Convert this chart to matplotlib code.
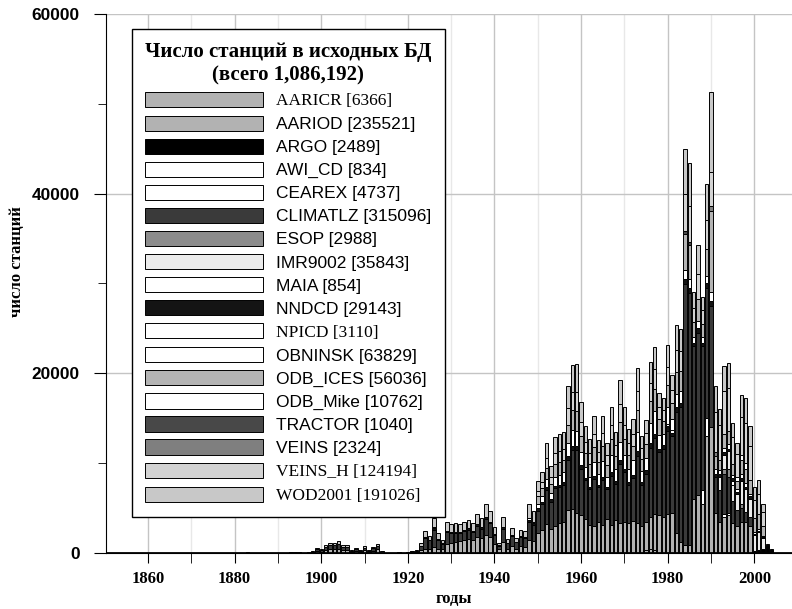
import numpy as np
import matplotlib.pyplot as plt
from matplotlib.ticker import MultipleLocator

# years on the axis, one bar per year
YEAR0 = 1880
years = np.arange(YEAR0, 2005)

# big sources, one value per year 1880..2004 (rows are decades)
AARIOD = [
    0, 0, 0, 0, 0, 0, 0, 0, 0, 0,
    0, 0, 0, 50, 50, 0, 0, 0, 100, 200,
    150, 300, 400, 400, 500, 300, 300, 100, 200, 100,
    300, 100, 250, 400, 50, 0, 0, 0, 50, 0,
    50, 80, 100, 300, 500, 500, 700, 500, 400, 1000,
    1100, 1200, 1300, 1400, 1600, 1400, 1800, 1700, 2000, 1800,
    1000, 400, 1200, 500, 800, 500, 800, 700, 1500, 1300,
    2200, 2600, 3200, 2700, 3000, 3300, 3500, 4800, 4900, 4500,
    4200, 3800, 3100, 3000, 3500, 3100, 3800, 3100, 3700, 3300,
    3500, 3300, 3600, 3300, 3000, 3100, 3600, 4000, 4200, 4000,
    4300, 4500, 2200, 1200, 900, 900, 6000, 6500, 5500, 13000,
    14000, 4500, 3500, 4000, 4200, 3300, 3000, 3500, 3400, 3000,
    0, 0, 0, 0, 0,
]
CLIMATLZ = [
    0, 0, 0, 100, 0, 0, 0, 0, 0, 0,
    0, 0, 0, 50, 100, 100, 50, 100, 150, 250,
    200, 400, 450, 450, 500, 400, 400, 150, 250, 150,
    300, 150, 300, 400, 150, 50, 50, 50, 100, 50,
    50, 100, 100, 450, 1200, 900, 1900, 1000, 600, 1300,
    1100, 1000, 900, 1000, 1000, 900, 1200, 1000, 1800, 1500,
    1000, 400, 1500, 600, 1100, 700, 1000, 1000, 2000, 1800,
    2500, 2800, 3800, 3000, 4200, 4000, 4100, 5600, 6600, 7000,
    5200, 4300, 4000, 5200, 3800, 5000, 3300, 5500, 4000, 6600,
    5500, 4300, 4700, 7500, 4600, 5400, 7700, 8500, 7000, 7600,
    9300, 8500, 13500, 15000, 29000, 28000, 17000, 18000, 16000, 14500,
    13500, 4000, 3500, 4500, 4000, 2500, 1800, 1500, 1200, 1000,
    0, 0, 0, 0, 0,
]
NNDCD = [0] * 40 + [
    0, 0, 0, 50, 100, 100, 200, 100, 100, 150,
    150, 150, 150, 150, 150, 150, 200, 150, 200, 200,
    100, 50, 150, 50, 100, 50, 100, 100, 200, 200,
    300, 300, 300, 300, 300, 300, 300, 400, 400, 400,
    400, 300, 300, 400, 300, 400, 300, 400, 300, 500,
    400, 300, 400, 500, 300, 400, 500, 500, 400, 400,
    500, 400, 500, 500, 600, 600, 400, 500, 400, 500,
    600, 300, 300, 300, 300, 300, 200, 300, 300, 300,
    100, 100, 100, 0, 0,
]
OBNINSK = [0] * 40 + [
    0, 0, 0, 0, 0, 0, 100, 0, 0, 0,
    0, 0, 0, 0, 0, 0, 0, 0, 0, 0,
    0, 0, 0, 0, 0, 0, 0, 0, 200, 200,
    500, 600, 900, 700, 1000, 1100, 1100, 1500, 1800, 1700,
    1400, 1200, 1100, 1500, 1200, 1700, 1100, 1900, 1400, 2000,
    1500, 1500, 1600, 2200, 1200, 1400, 2300, 2500, 1500, 1200,
    1900, 1200, 1500, 1300, 1000, 1000, 600, 800, 600, 800,
    1000, 500, 400, 500, 500, 400, 300, 500, 400, 300,
    200, 200, 100, 0, 0,
]
ODB_ICES = [0] * 70 + [
    800, 900, 1300, 1000, 1400, 1400, 1400, 2000, 2200, 2200,
    1800, 1500, 1400, 1700, 1300, 1700, 1300, 1800, 1400, 2200,
    1800, 1500, 1600, 2400, 1400, 1500, 2400, 2500, 1800, 1500,
    2400, 1800, 2500, 2300, 4000, 3800, 1700, 2500, 1500, 3000,
    9000, 1500, 1200, 1500, 1500, 1200, 900, 1500, 1600, 1500,
    1500, 1700, 1200, 0, 0,
]
VEINS_H = [0] * 70 + [
    600, 700, 1100, 800, 1200, 1200, 1200, 1800, 2000, 2100,
    1600, 1300, 1200, 1500, 1100, 1500, 1100, 1600, 1200, 2000,
    1500, 1300, 1400, 2100, 1200, 1300, 2000, 2200, 1400, 1200,
    2000, 1500, 2400, 2200, 4200, 4000, 1600, 2800, 1500, 3300,
    3800, 4500, 3800, 4800, 4800, 3000, 2500, 4200, 4500, 3800,
    2000, 2200, 1500, 100, 0,
]
WOD2001 = [
    0, 0, 0, 0, 0, 0, 0, 0, 0, 0,
    0, 0, 0, 0, 0, 0, 0, 0, 0, 100,
    100, 200, 250, 250, 350, 200, 200, 50, 100, 50,
    200, 50, 150, 250, 0, 0, 0, 0, 0, 0,
    50, 70, 100, 300, 700, 400, 1000, 600, 400, 950,
    850, 950, 850, 950, 950, 850, 1100, 1050, 1500, 1200,
    800, 250, 1150, 450, 800, 450, 700, 700, 1600, 1200,
    1100, 1100, 1700, 1200, 1800, 1900, 1900, 2500, 3000, 3100,
    2200, 1700, 1600, 1900, 1400, 1800, 1400, 1900, 1500, 2700,
    2000, 1600, 1600, 2600, 1300, 1400, 2400, 2400, 1500, 1300,
    2400, 1600, 2800, 2400, 5000, 4800, 1800, 3200, 1500, 4000,
    8900, 2900, 1800, 2800, 2800, 1600, 1200, 2500, 2700, 2200,
    1450, 1550, 950, 0, 0,
]

# small sources: year -> stations
AARICR = {1975: 300, 1976: 400, 1977: 300}
ARGO = {2000: 250, 2001: 350, 2002: 450, 2003: 900, 2004: 500}
AWI_CD = {1993: 300, 1994: 300}
CEAREX = {1988: 1500, 1989: 2000}
ESOP = {1993: 600, 1994: 800, 1997: 500}
IMR9002 = {1992: 1500, 1993: 1500, 1994: 2000, 1995: 1800, 1996: 1800,
           1997: 2500, 1998: 2500, 1999: 2000, 2000: 1800, 2001: 2000, 2002: 1200}
MAIA = {1995: 400}
NPICD = {1980: 300, 1981: 300}
ODB_MIKE = {1996: 500, 1997: 600, 1998: 600}
TRACTOR = {1984: 300, 1985: 300}
VEINS = {1990: 500, 1991: 400}

names = ["AARICR", "AARIOD", "ARGO", "AWI_CD", "CEAREX", "CLIMATLZ", "ESOP",
         "IMR9002", "MAIA", "NNDCD", "NPICD", "OBNINSK", "ODB_ICES",
         "ODB_Mike", "TRACTOR", "VEINS", "VEINS_H", "WOD2001"]
counts = [6366, 235521, 2489, 834, 4737, 315096, 2988, 35843, 854, 29143,
          3110, 63829, 56036, 10762, 1040, 2324, 124194, 191026]
colors = ["#b2b2b2", "#b2b2b2", "#000000", "#ffffff", "#ffffff", "#3a3a3a",
          "#8c8c8c", "#ebebeb", "#ffffff", "#141414", "#ffffff", "#ffffff",
          "#b4b4b4", "#ffffff", "#484848", "#7f7f7f", "#d3d3d3", "#c8c8c8"]
serif_label = ["AARICR", "NPICD", "VEINS_H", "WOD2001"]


def spread(d):
    v = np.zeros(len(years))
    for y, n in d.items():
        v[y - YEAR0] = n
    return v


series = [spread(AARICR), np.array(AARIOD, float), spread(ARGO), spread(AWI_CD),
          spread(CEAREX), np.array(CLIMATLZ, float), spread(ESOP), spread(IMR9002),
          spread(MAIA), np.array(NNDCD, float), spread(NPICD), np.array(OBNINSK, float),
          np.array(ODB_ICES, float), spread(ODB_MIKE), spread(TRACTOR), spread(VEINS),
          np.array(VEINS_H, float), np.array(WOD2001, float)]

fig = plt.figure(figsize=(7.92, 6.09), dpi=100)
ax = fig.add_axes([106 / 792, 56 / 609, 686 / 792, 539 / 609])

bottom = np.zeros(len(years))
handles = []
for name, vals, col in zip(names, series, colors):
    m = vals > 0
    b = ax.bar(years[m], vals[m], bottom=bottom[m], width=0.8, color=col,
               edgecolor="black", linewidth=0.7, zorder=2)
    handles.append(b)
    bottom += vals

ax.axhline(0, color="black", lw=2, zorder=3)

ax.set_xlim(1850.3, 2008.7)
ax.set_ylim(0, 60000)
ax.xaxis.set_major_locator(MultipleLocator(20))
ax.xaxis.set_minor_locator(MultipleLocator(10))
ax.yaxis.set_major_locator(MultipleLocator(20000))
ax.yaxis.set_minor_locator(MultipleLocator(10000))
ax.set_axisbelow(True)
ax.grid(which="major", color="#c4c4c4", lw=1)
ax.grid(which="minor", axis="x", color="#e8e8e8", lw=1)
ax.spines["top"].set_visible(False)
ax.spines["right"].set_visible(False)
ax.tick_params(axis="y", which="major", length=9, direction="out", pad=10)
ax.tick_params(axis="y", which="minor", length=6, direction="out")
ax.tick_params(axis="x", which="both", length=7, direction="out", pad=6)

for t in ax.get_yticklabels():
    t.set_fontfamily("Liberation Sans")
    t.set_fontweight("bold")
    t.set_fontsize(12.4)
for t in ax.get_xticklabels():
    t.set_fontfamily("Liberation Serif")
    t.set_fontweight("bold")
    t.set_fontsize(12)

ax.set_xlabel("годы", fontfamily="Liberation Serif", fontweight="bold", fontsize=12)
ax.xaxis.set_label_coords(0.507, -0.07)
ax.set_ylabel("число станций", fontfamily="Liberation Serif", fontweight="bold", fontsize=12)
ax.yaxis.set_label_coords(-0.118, 0.54)

labels = [f"{n} [{c}]" for n, c in zip(names, counts)]
leg = ax.legend(handles, labels, loc="upper left", bbox_to_anchor=(0.038, 0.972),
                borderaxespad=0, fontsize=12.5,
                title="Число станций в исходных БД\n(всего 1,086,192)",
                title_fontproperties={"family": "Liberation Serif", "weight": "bold", "size": 15},
                handlelength=6.8, handleheight=0.98, handletextpad=0.75,
                labelspacing=0.37, borderpad=0.75, fancybox=False,
                edgecolor="black", framealpha=1)
leg.get_frame().set_linewidth(1.0)
leg.get_title().set_multialignment("center")
for t, n in zip(leg.get_texts(), names):
    t.set_fontfamily("Liberation Serif" if n in serif_label else "Liberation Sans")

fig.savefig("out.png", dpi=100)
